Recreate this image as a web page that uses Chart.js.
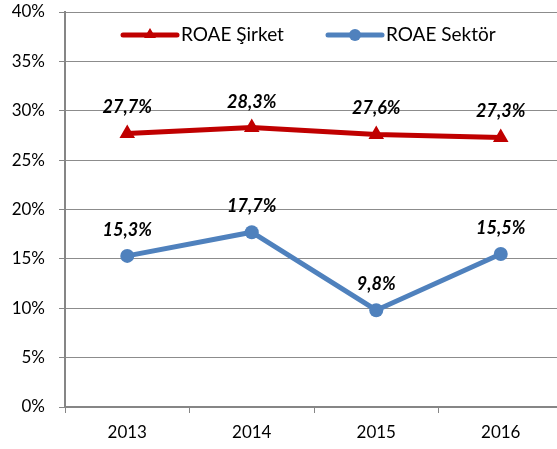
<!DOCTYPE html>
<html>
<head>
<meta charset="utf-8">
<script src="https://cdn.jsdelivr.net/npm/chart.js@4"></script>
<style>
  body { margin: 0; background: #fff; overflow: hidden; }
  #wrap { position: relative; width: 557px; height: 449px; overflow: hidden; }
  #legend { position: absolute; top: 22px; left: 119px; font-family: Lato, sans-serif; font-size: 19px; color: #000; display: flex; align-items: center; }
  .item { display: flex; align-items: center; margin-right: 40px; }
  .item canvas { margin-right: 1px; }
</style>
</head>
<body>
<div id="wrap">
  <canvas id="chart" width="563" height="449"></canvas>
  <div id="legend"></div>
</div>
<script>
// Chart data
const years = ['2013', '2014', '2015', '2016'];
const roaeSirket = [27.7, 28.3, 27.6, 27.3];
const roaeSektor = [15.3, 17.7, 9.8, 15.5];
const seriesNames = ['ROAE Şirket', 'ROAE Sektör'];
const yTicks = [0, 5, 10, 15, 20, 25, 30, 35, 40];

const RED = '#C00000';
const BLUE = '#4F81BD';
const FONT = 'Lato, sans-serif';

const fmt = v => v.toFixed(1).replace('.', ',') + '%';

// draws bold italic value labels above each point
const valueLabels = {
    id: 'valueLabels',
    afterDatasetsDraw(chart) {
        const ctx = chart.ctx;
        ctx.save();
        ctx.font = 'italic bold 18px ' + FONT;
        ctx.fillStyle = '#000';
        ctx.textAlign = 'center';
        ctx.textBaseline = 'alphabetic';
        chart.data.datasets.forEach((ds, i) => {
            chart.getDatasetMeta(i).data.forEach((pt, j) => {
                ctx.fillText(fmt(ds.data[j]), pt.x, pt.y - 20);
            });
        });
        ctx.restore();
    }
};

new Chart(document.getElementById('chart'), {
    type: 'line',
    data: {
        labels: years,
        datasets: [{
            label: seriesNames[0],
            data: roaeSirket,
            borderColor: RED,
            backgroundColor: RED,
            borderWidth: 5,
            pointStyle: 'triangle',
            pointRadius: 7,
            pointBorderWidth: 2
        }, {
            label: seriesNames[1],
            data: roaeSektor,
            borderColor: BLUE,
            backgroundColor: BLUE,
            borderWidth: 5,
            pointStyle: 'circle',
            pointRadius: 7,
            pointBorderWidth: 0
        }]
    },
    options: {
        responsive: false,
        animation: false,
        layout: { autoPadding: false, padding: 0 },
        plugins: {
            legend: { display: false },
            tooltip: { enabled: false }
        },
        scales: {
            x: {
                offset: true,
                grid: { offset: true, drawOnChartArea: false, color: '#868686', tickLength: 6 },
                border: { color: '#868686', width: 2 },
                ticks: { color: '#000', font: { family: FONT, size: 17 }, padding: 9 },
                afterFit(scale) { scale.height = 42; }
            },
            y: {
                min: 0,
                max: 40,
                afterBuildTicks(scale) { scale.ticks = yTicks.map(v => ({ value: v })); },
                grid: { color: '#8C8C8C', lineWidth: 1, borderDash: [2, 2], tickLength: 6, tickColor: '#868686', tickBorderDash: [] },
                border: { color: '#868686', width: 2 },
                ticks: { color: '#000', font: { family: FONT, size: 17 }, padding: 14, callback: v => v + '%' },
                afterFit(scale) {
                    scale.width = 65;
                    scale.paddingTop = 12;
                    scale.paddingBottom = 0;
                }
            }
        }
    },
    plugins: [valueLabels]
});

// legend inside the plot area
const legend = document.getElementById('legend');
[[seriesNames[0], RED, 'triangle'], [seriesNames[1], BLUE, 'circle']].forEach(([name, color, shape]) => {
    const item = document.createElement('div');
    item.className = 'item';
    const c = document.createElement('canvas');
    c.width = 61; c.height = 20;
    const g = c.getContext('2d');
    g.strokeStyle = color; g.fillStyle = color; g.lineWidth = 5; g.lineCap = 'round';
    g.beginPath(); g.moveTo(4, 11); g.lineTo(58, 11); g.stroke();
    g.beginPath();
    if (shape === 'circle') {
        g.arc(31, 11, 6, 0, Math.PI * 2);
    } else {
        g.moveTo(31, 4); g.lineTo(37, 14); g.lineTo(25, 14); g.closePath();
    }
    g.fill();
    const span = document.createElement('span');
    span.textContent = name;
    item.appendChild(c);
    item.appendChild(span);
    legend.appendChild(item);
});
</script>
</body>
</html>
